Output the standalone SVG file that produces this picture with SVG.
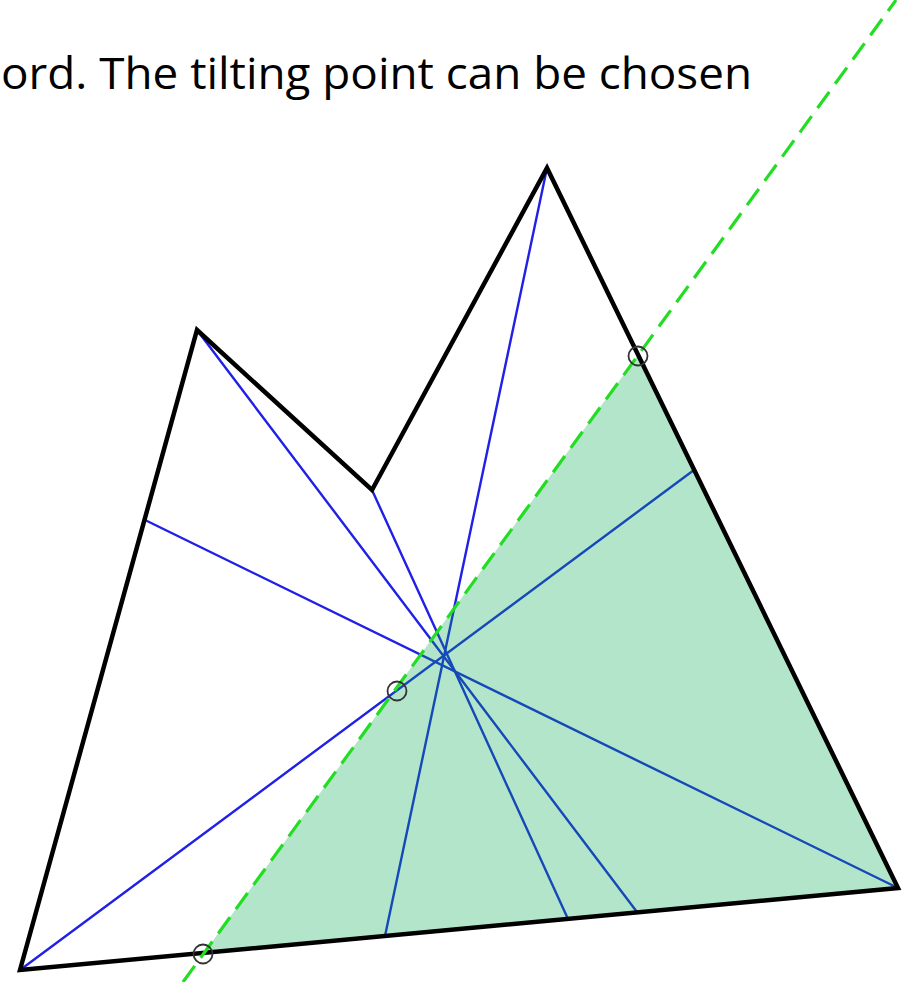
<svg xmlns="http://www.w3.org/2000/svg" width="910" height="982" viewBox="0 0 910 982">
<style>
.cap{font-family:"Open Sans","Noto Sans","Liberation Sans",sans-serif;font-size:44px;fill:#000}
.blue{stroke:#2020e6;stroke-width:2.4;fill:none;stroke-linecap:round}
.edge{stroke:#000;stroke-width:4.5;fill:none;stroke-linejoin:miter;stroke-linecap:round}
.fillr{fill:#00aa50;fill-opacity:0.3;stroke:none}
.tilt{stroke:#22dd22;stroke-width:3.2;fill:none;stroke-dasharray:20 10}
.pt{fill:none;stroke:#333;stroke-width:1.8}
</style>
<rect width="910" height="982" fill="#fff"/>
<g id="caption">
<text class="cap" x="1" y="89" textLength="751" lengthAdjust="spacingAndGlyphs">ord. The tilting point can be chosen</text>
</g>
<g id="connectors">
<line class="blue" x1="197" y1="330" x2="637" y2="912"/>
<line class="blue" x1="372" y1="490" x2="568" y2="919"/>
<line class="blue" x1="547" y1="168" x2="385" y2="936"/>
<line class="blue" x1="898" y1="888" x2="145" y2="520"/>
<line class="blue" x1="20" y1="970" x2="694" y2="470"/>
</g>
<g id="region">
<polygon class="fillr" points="204,953 638,355 898,888"/>
</g>
<g id="polygon">
<polygon class="edge" points="20,970 197,330 372,490 547,168 898,888"/>
</g>
<g id="tilt-line">
<line class="tilt" x1="183" y1="982" x2="896" y2="0"/>
</g>
<g id="point-bottom"><circle class="pt" cx="203" cy="954" r="9.5"/></g>
<g id="point-center"><circle class="pt" cx="397" cy="691" r="9.5"/></g>
<g id="point-top"><circle class="pt" cx="638" cy="356" r="9.5"/></g>
</svg>
